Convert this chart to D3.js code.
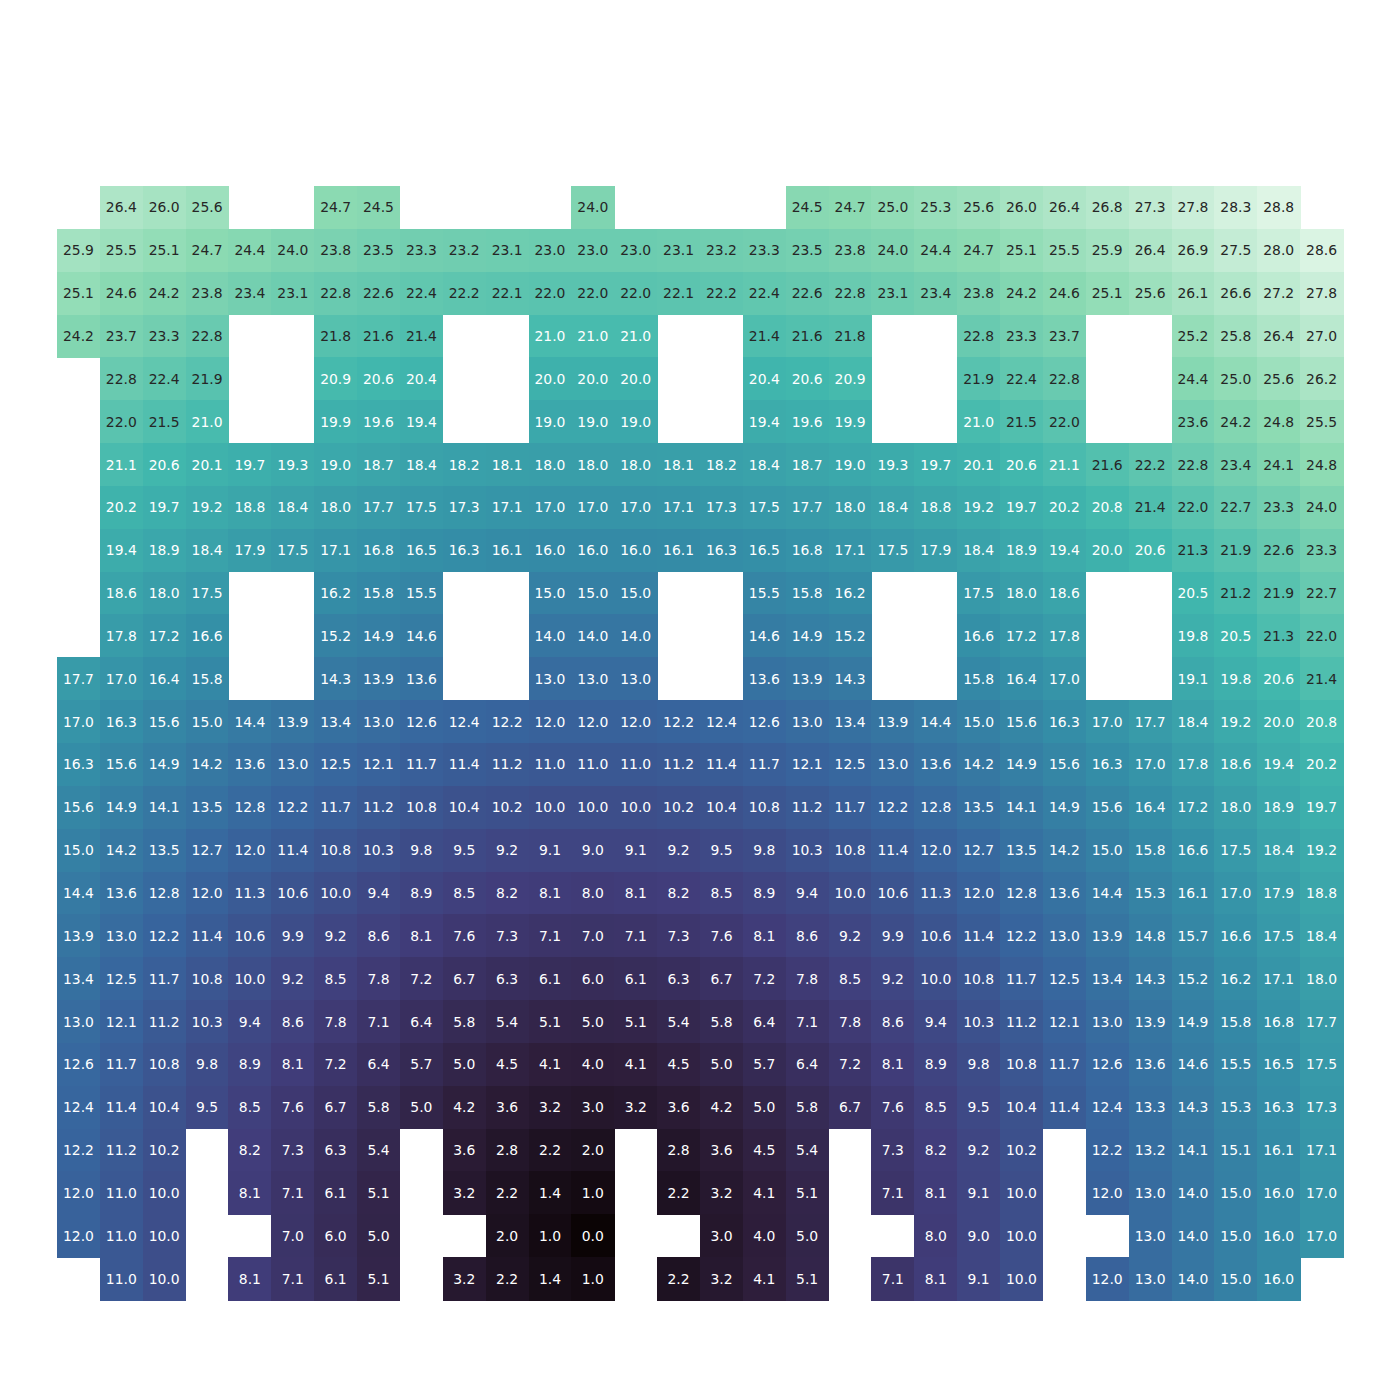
<!DOCTYPE html>
<html>
<head>
<meta charset="utf-8">
<script src="https://cdn.jsdelivr.net/npm/d3@7"></script>
<style>
  html, body { margin: 0; padding: 0; background: #ffffff; }
  svg { display: block; }
</style>
</head>
<body>
<svg id="chart" width="1400" height="1400"></svg>
<script>
const N = null;
const columns = d3.range(30).map(i => "c" + i);
const rows = d3.range(26).map(i => "r" + i);

const row0  = [N,26.4,26.0,25.6,N,N,24.7,24.5,N,N,N,N,24.0,N,N,N,N,24.5,24.7,25.0,25.3,25.6,26.0,26.4,26.8,27.3,27.8,28.3,28.8,N];
const row1  = [25.9,25.5,25.1,24.7,24.4,24.0,23.8,23.5,23.3,23.2,23.1,23.0,23.0,23.0,23.1,23.2,23.3,23.5,23.8,24.0,24.4,24.7,25.1,25.5,25.9,26.4,26.9,27.5,28.0,28.6];
const row2  = [25.1,24.6,24.2,23.8,23.4,23.1,22.8,22.6,22.4,22.2,22.1,22.0,22.0,22.0,22.1,22.2,22.4,22.6,22.8,23.1,23.4,23.8,24.2,24.6,25.1,25.6,26.1,26.6,27.2,27.8];
const row3  = [24.2,23.7,23.3,22.8,N,N,21.8,21.6,21.4,N,N,21.0,21.0,21.0,N,N,21.4,21.6,21.8,N,N,22.8,23.3,23.7,N,N,25.2,25.8,26.4,27.0];
const row4  = [N,22.8,22.4,21.9,N,N,20.9,20.6,20.4,N,N,20.0,20.0,20.0,N,N,20.4,20.6,20.9,N,N,21.9,22.4,22.8,N,N,24.4,25.0,25.6,26.2];
const row5  = [N,22.0,21.5,21.0,N,N,19.9,19.6,19.4,N,N,19.0,19.0,19.0,N,N,19.4,19.6,19.9,N,N,21.0,21.5,22.0,N,N,23.6,24.2,24.8,25.5];
const row6  = [N,21.1,20.6,20.1,19.7,19.3,19.0,18.7,18.4,18.2,18.1,18.0,18.0,18.0,18.1,18.2,18.4,18.7,19.0,19.3,19.7,20.1,20.6,21.1,21.6,22.2,22.8,23.4,24.1,24.8];
const row7  = [N,20.2,19.7,19.2,18.8,18.4,18.0,17.7,17.5,17.3,17.1,17.0,17.0,17.0,17.1,17.3,17.5,17.7,18.0,18.4,18.8,19.2,19.7,20.2,20.8,21.4,22.0,22.7,23.3,24.0];
const row8  = [N,19.4,18.9,18.4,17.9,17.5,17.1,16.8,16.5,16.3,16.1,16.0,16.0,16.0,16.1,16.3,16.5,16.8,17.1,17.5,17.9,18.4,18.9,19.4,20.0,20.6,21.3,21.9,22.6,23.3];
const row9  = [N,18.6,18.0,17.5,N,N,16.2,15.8,15.5,N,N,15.0,15.0,15.0,N,N,15.5,15.8,16.2,N,N,17.5,18.0,18.6,N,N,20.5,21.2,21.9,22.7];
const row10 = [N,17.8,17.2,16.6,N,N,15.2,14.9,14.6,N,N,14.0,14.0,14.0,N,N,14.6,14.9,15.2,N,N,16.6,17.2,17.8,N,N,19.8,20.5,21.3,22.0];
const row11 = [17.7,17.0,16.4,15.8,N,N,14.3,13.9,13.6,N,N,13.0,13.0,13.0,N,N,13.6,13.9,14.3,N,N,15.8,16.4,17.0,N,N,19.1,19.8,20.6,21.4];
const row12 = [17.0,16.3,15.6,15.0,14.4,13.9,13.4,13.0,12.6,12.4,12.2,12.0,12.0,12.0,12.2,12.4,12.6,13.0,13.4,13.9,14.4,15.0,15.6,16.3,17.0,17.7,18.4,19.2,20.0,20.8];
const row13 = [16.3,15.6,14.9,14.2,13.6,13.0,12.5,12.1,11.7,11.4,11.2,11.0,11.0,11.0,11.2,11.4,11.7,12.1,12.5,13.0,13.6,14.2,14.9,15.6,16.3,17.0,17.8,18.6,19.4,20.2];
const row14 = [15.6,14.9,14.1,13.5,12.8,12.2,11.7,11.2,10.8,10.4,10.2,10.0,10.0,10.0,10.2,10.4,10.8,11.2,11.7,12.2,12.8,13.5,14.1,14.9,15.6,16.4,17.2,18.0,18.9,19.7];
const row15 = [15.0,14.2,13.5,12.7,12.0,11.4,10.8,10.3,9.8,9.5,9.2,9.1,9.0,9.1,9.2,9.5,9.8,10.3,10.8,11.4,12.0,12.7,13.5,14.2,15.0,15.8,16.6,17.5,18.4,19.2];
const row16 = [14.4,13.6,12.8,12.0,11.3,10.6,10.0,9.4,8.9,8.5,8.2,8.1,8.0,8.1,8.2,8.5,8.9,9.4,10.0,10.6,11.3,12.0,12.8,13.6,14.4,15.3,16.1,17.0,17.9,18.8];
const row17 = [13.9,13.0,12.2,11.4,10.6,9.9,9.2,8.6,8.1,7.6,7.3,7.1,7.0,7.1,7.3,7.6,8.1,8.6,9.2,9.9,10.6,11.4,12.2,13.0,13.9,14.8,15.7,16.6,17.5,18.4];
const row18 = [13.4,12.5,11.7,10.8,10.0,9.2,8.5,7.8,7.2,6.7,6.3,6.1,6.0,6.1,6.3,6.7,7.2,7.8,8.5,9.2,10.0,10.8,11.7,12.5,13.4,14.3,15.2,16.2,17.1,18.0];
const row19 = [13.0,12.1,11.2,10.3,9.4,8.6,7.8,7.1,6.4,5.8,5.4,5.1,5.0,5.1,5.4,5.8,6.4,7.1,7.8,8.6,9.4,10.3,11.2,12.1,13.0,13.9,14.9,15.8,16.8,17.7];
const row20 = [12.6,11.7,10.8,9.8,8.9,8.1,7.2,6.4,5.7,5.0,4.5,4.1,4.0,4.1,4.5,5.0,5.7,6.4,7.2,8.1,8.9,9.8,10.8,11.7,12.6,13.6,14.6,15.5,16.5,17.5];
const row21 = [12.4,11.4,10.4,9.5,8.5,7.6,6.7,5.8,5.0,4.2,3.6,3.2,3.0,3.2,3.6,4.2,5.0,5.8,6.7,7.6,8.5,9.5,10.4,11.4,12.4,13.3,14.3,15.3,16.3,17.3];
const row22 = [12.2,11.2,10.2,N,8.2,7.3,6.3,5.4,N,3.6,2.8,2.2,2.0,N,2.8,3.6,4.5,5.4,N,7.3,8.2,9.2,10.2,N,12.2,13.2,14.1,15.1,16.1,17.1];
const row23 = [12.0,11.0,10.0,N,8.1,7.1,6.1,5.1,N,3.2,2.2,1.4,1.0,N,2.2,3.2,4.1,5.1,N,7.1,8.1,9.1,10.0,N,12.0,13.0,14.0,15.0,16.0,17.0];
const row24 = [12.0,11.0,10.0,N,N,7.0,6.0,5.0,N,N,2.0,1.0,0.0,N,N,3.0,4.0,5.0,N,N,8.0,9.0,10.0,N,N,13.0,14.0,15.0,16.0,17.0];
const row25 = [N,11.0,10.0,N,8.1,7.1,6.1,5.1,N,3.2,2.2,1.4,1.0,N,2.2,3.2,4.1,5.1,N,7.1,8.1,9.1,10.0,N,12.0,13.0,14.0,15.0,16.0,N];

const values = [row0,row1,row2,row3,row4,row5,row6,row7,row8,row9,row10,row11,row12,
                row13,row14,row15,row16,row17,row18,row19,row20,row21,row22,row23,row24,row25];

// mako colormap anchors
const makoStops = ["#0b0405","#2e1e3b","#413d7b","#37659e","#348fa7","#40b7ad","#8bdab2","#def5e5"];

const cells = [];
values.forEach((r, ri) => r.forEach((v, ci) => {
  if (v !== null) cells.push({ row: rows[ri], col: columns[ci], v });
}));

const vmin = d3.min(cells, d => d.v), vmax = d3.max(cells, d => d.v);

const x = d3.scaleBand().domain(columns).range([57, 1343]).padding(0);
const y = d3.scaleBand().domain(rows).range([186, 1300]).padding(0);
const interp = d3.piecewise(d3.interpolateRgb, makoStops);
const color = d3.scaleSequential(interp).domain([vmin, vmax]);

function lum(c) {
  const rgb = d3.rgb(c);
  const f = u => { u /= 255; return u <= 0.03928 ? u / 12.92 : Math.pow((u + 0.055) / 1.055, 2.4); };
  return 0.2126 * f(rgb.r) + 0.7152 * f(rgb.g) + 0.0722 * f(rgb.b);
}

const svg = d3.select("#chart");
const g = svg.append("g");

g.selectAll("rect.cell").data(cells).join("rect")
  .attr("class", "cell")
  .attr("x", d => x(d.col))
  .attr("y", d => y(d.row))
  .attr("width", x.bandwidth() + 0.5)
  .attr("height", y.bandwidth() + 0.5)
  .attr("fill", d => color(d.v))
  .attr("shape-rendering", "crispEdges");

g.selectAll("text.annot").data(cells).join("text")
  .attr("class", "annot")
  .attr("x", d => x(d.col) + x.bandwidth() / 2)
  .attr("y", d => y(d.row) + y.bandwidth() / 2)
  .attr("text-anchor", "middle")
  .attr("dominant-baseline", "central")
  .attr("font-family", "DejaVu Sans, sans-serif")
  .attr("font-size", "13.9px")
  .attr("fill", d => d.v >= 21.15 ? "#262626" : "#ffffff")
  .text(d => d.v.toFixed(1));
</script>
</body>
</html>
